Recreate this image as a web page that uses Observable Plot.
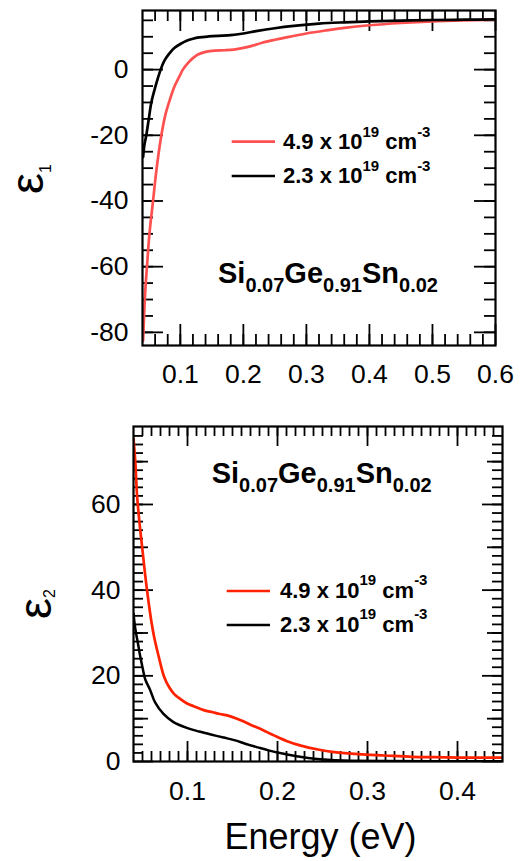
<!DOCTYPE html>
<html><head><meta charset="utf-8">
<script src="https://cdn.jsdelivr.net/npm/d3@7"></script>
<script src="https://cdn.jsdelivr.net/npm/@observablehq/plot@0.6"></script>
<style>
body{margin:0;background:#fff;}
#wrap{position:relative;width:525px;height:861px;overflow:hidden;font-family:"Liberation Sans",Arial,sans-serif;}
#wrap svg{display:block;}
</style></head><body><div id="wrap"></div>
<script>
// ---- data ----
const concentrations = ["4.9", "2.3"];           // x 10^19 cm^-3
const seriesColorsTop = ["#ff5050", "#000000"];
const seriesColorsBot = ["#ff2200", "#000000"];

// top panel: eps1
const topE49 = [0.041,0.0425,0.0445,0.0471,0.051,0.0567,0.0625,0.0699,0.076,0.082,0.091,0.1,0.104,0.112,0.12,0.128,0.14,0.155,0.17,0.185,0.2,0.215,0.23,0.25,0.27,0.3,0.33,0.36,0.4,0.45,0.5,0.55,0.6];
const topV49 = [-82.5,-75,-67,-60,-50,-40,-30,-20,-14,-10,-5,-1.5,0,2,3.5,4.6,5.4,5.8,5.9,6.1,6.6,7.3,8.2,9.1,9.9,11,11.9,12.7,13.5,14.2,14.7,15,15.2];
const topE23 = [0.041,0.043,0.046,0.05,0.054,0.06,0.0688,0.075,0.083,0.09,0.1,0.11,0.12,0.13,0.145,0.16,0.18,0.2,0.22,0.25,0.28,0.32,0.36,0.4,0.45,0.5,0.55,0.6];
const topV23 = [-26.6,-23,-20,-15,-10,-5.5,0,2.8,5,6.5,7.8,8.8,9.4,9.8,10.1,10.3,10.5,11,11.7,12.6,13.3,14,14.4,14.7,14.9,15.1,15.2,15.3];

// bottom panel: eps2
const botE49 = [0.04,0.042,0.044,0.047,0.05,0.053,0.056,0.06,0.063,0.068,0.074,0.08,0.085,0.09,0.099,0.107,0.118,0.128,0.136,0.145,0.155,0.162,0.17,0.183,0.196,0.21,0.226,0.245,0.263,0.29,0.319,0.35,0.374,0.41,0.45];
const botV49 = [75.4,70,62,55,49.3,43.5,38.4,32.5,29,24.5,19.8,17.2,15.8,14.9,13.6,12.9,12,11.5,11.1,10.7,10,9.4,8.6,7.4,6.1,4.8,3.7,2.8,2.2,1.7,1.4,1.1,1.0,0.9,0.9];
const botE23 = [0.04,0.042,0.045,0.0475,0.05,0.053,0.0587,0.064,0.0733,0.0844,0.1,0.113,0.126,0.14,0.152,0.165,0.178,0.19,0.207,0.225,0.244,0.26,0.281,0.32,0.38,0.45];
const botV23 = [34.5,31,27.5,24.5,22,19.2,16.6,13.8,11.1,9.2,7.8,7,6.3,5.6,5,4.1,3.3,2.6,1.8,1.1,0.6,0.35,0.2,0.1,0.05,0.05];

// ticks
const topXTicks = [0.1,0.2,0.3,0.4,0.5,0.6];
const topYTicks = [-80,-60,-40,-20,0];
const botXTicks = [0.1,0.2,0.3,0.4];
const botYTicks = [0,20,40,60];

const FONT = '"Liberation Sans", Arial, sans-serif';
const TICK_FS = 26.5;
const zip = (xs, ys, s) => xs.map((x, i) => ({x, y: ys[i], s}));

function tickRules({xMinor, xMajor, yMinor, yMid, yMajor, frameW, frameH, lx, ly}) {
  const st = {stroke: "#000", strokeWidth: 1.8};
  const m = [];
  const addX = (vals, len) => {
    m.push(Plot.ruleX(vals, {x: d => d, insetTop: frameH - len, ...st}));
    m.push(Plot.ruleX(vals, {x: d => d, insetBottom: frameH - len, ...st}));
  };
  const addY = (vals, len) => {
    m.push(Plot.ruleY(vals, {y: d => d, insetRight: frameW - len, ...st}));
    m.push(Plot.ruleY(vals, {y: d => d, insetLeft: frameW - len, ...st}));
  };
  addX(xMinor, lx[0]); addX(xMajor, lx[1]);
  addY(yMinor, ly[0]); if (yMid) addY(yMid, ly[1]); addY(yMajor, ly[2]);
  return m;
}

function richText(g, x, y, parts, size, weight, anchor) {
  const t = g.append("text").attr("x", x).attr("y", y)
    .attr("text-anchor", anchor || "start")
    .attr("font-family", FONT).attr("font-weight", weight).attr("font-size", size).attr("fill", "#000");
  let shift = 0;
  for (const p of parts) {
    const ts = t.append("tspan").text(p.t).attr("font-size", p.size || size);
    const target = p.dy || 0;
    if (target !== shift) { ts.attr("dy", target - shift); shift = target; }
  }
  return t;
}

const wrap = document.getElementById("wrap");

// ---------- TOP PANEL ----------
{
  const W = 525, H = 400, mL = 142, mR = 30, mT = 10, mB = 55;
  const frameW = W - mL - mR, frameH = H - mT - mB;
  const data = [...zip(topE49, topV49, 0), ...zip(topE23, topV23, 1)];
  const svg = Plot.plot({
    width: W, height: H, marginLeft: mL, marginRight: mR, marginTop: mT, marginBottom: mB,
    style: {fontFamily: FONT, fontSize: TICK_FS + "px", color: "#000", background: "transparent", overflow: "visible"},
    x: {domain: [0.04, 0.6]},
    y: {domain: [-84, 18]},
    marks: [
      ...tickRules({
        xMinor: d3.range(0.06, 0.595, 0.02), xMajor: topXTicks,
        yMinor: d3.range(-80, 16, 5), yMajor: topYTicks,
        frameW, frameH, lx: [11, 21], ly: [11, 0, 21]
      }),
      Plot.line(data.filter(d => d.s === 0), {x: "x", y: "y", stroke: seriesColorsTop[0], strokeWidth: 2.7, curve: "catmull-rom", clip: true}),
      Plot.line(data.filter(d => d.s === 1), {x: "x", y: "y", stroke: seriesColorsTop[1], strokeWidth: 2.7, curve: "catmull-rom", clip: true}),
      Plot.frame({stroke: "#000", strokeWidth: 2.2}),
      Plot.axisX({ticks: topXTicks, tickSize: 0, tickPadding: 19, tickFormat: d3.format(".1f"), label: null, fontSize: TICK_FS}),
      Plot.axisY({ticks: topYTicks, tickSize: 0, tickPadding: 14, tickFormat: d => String(d), label: null, fontSize: TICK_FS})
    ]
  });
  const g = d3.select(svg).append("g");
  // y label
  const yl = g.append("g").attr("transform", "translate(43,179) rotate(-90)");
  richText(yl, 0, 0, [{t: "ε"}, {t: "1", size: 16, dy: 8}], 47, "normal", "middle");
  // legend
  const leg = [[141.7, 149], [176, 183.3]];
  leg.forEach(([ly, by], i) => {
    g.append("line").attr("x1", 231.7).attr("x2", 275).attr("y1", ly).attr("y2", ly)
      .attr("stroke", seriesColorsTop[i]).attr("stroke-width", 2.7);
    richText(g, 283, by, [{t: concentrations[i] + " x 10"}, {t: "19", size: 15, dy: -12.5}, {t: " cm"}, {t: "-3", size: 15, dy: -12.5}], 22, "bold");
  });
  // composition
  richText(g, 218, 282.7, [{t: "Si"}, {t: "0.07", size: 20, dy: 9}, {t: "Ge"}, {t: "0.91", size: 20, dy: 9}, {t: "Sn"}, {t: "0.02", size: 20, dy: 9}], 29, "bold");
  wrap.appendChild(svg);
}

// ---------- BOTTOM PANEL ----------
{
  const W = 525, H = 461, mL = 133, mR = 23, mT = 26, mB = 100;
  const frameW = W - mL - mR, frameH = H - mT - mB;
  const data = [...zip(botE49, botV49, 0), ...zip(botE23, botV23, 1)];
  const svg = Plot.plot({
    width: W, height: H, marginLeft: mL, marginRight: mR, marginTop: mT, marginBottom: mB,
    style: {fontFamily: FONT, fontSize: TICK_FS + "px", color: "#000", background: "transparent", overflow: "visible"},
    x: {domain: [0.04, 0.45]},
    y: {domain: [0, 78.2]},
    marks: [
      ...tickRules({
        xMinor: d3.range(0.05, 0.445, 0.01), xMajor: botXTicks,
        yMinor: d3.range(2, 78, 2), yMid: [10, 30, 50, 70], yMajor: botYTicks,
        frameW, frameH, lx: [10, 20], ly: [10, 15, 20]
      }),
      Plot.line(data.filter(d => d.s === 0), {x: "x", y: "y", stroke: seriesColorsBot[0], strokeWidth: 2.7, curve: "catmull-rom", clip: true}),
      Plot.line(data.filter(d => d.s === 1), {x: "x", y: "y", stroke: seriesColorsBot[1], strokeWidth: 2.5, curve: "catmull-rom", clip: true}),
      Plot.frame({stroke: "#000", strokeWidth: 2.2}),
      Plot.axisX({ticks: botXTicks, tickSize: 0, tickPadding: 20, tickFormat: d3.format(".1f"), label: null, fontSize: TICK_FS}),
      Plot.axisY({ticks: botYTicks, tickSize: 0, tickPadding: 13, tickFormat: d => String(d), label: null, fontSize: TICK_FS}),
      Plot.text(["Energy (eV)"], {frameAnchor: "bottom", lineAnchor: "bottom", dx: 2.5, dy: 87, fontSize: 36, fill: "#000"})
    ]
  });
  const g = d3.select(svg).append("g");
  const yl = g.append("g").attr("transform", "translate(51,204) rotate(-90)");
  richText(yl, 0, 0, [{t: "ε"}, {t: "2", size: 16, dy: 4}], 47, "normal", "middle");
  const leg = [[191, 197.7], [225, 231.7]];
  leg.forEach(([ly, by], i) => {
    g.append("line").attr("x1", 226.7).attr("x2", 270).attr("y1", ly).attr("y2", ly)
      .attr("stroke", seriesColorsBot[i]).attr("stroke-width", 2.7);
    richText(g, 280, by, [{t: concentrations[i] + " x 10"}, {t: "19", size: 15, dy: -12.5}, {t: " cm"}, {t: "-3", size: 15, dy: -12.5}], 22, "bold");
  });
  richText(g, 211.7, 82.7, [{t: "Si"}, {t: "0.07", size: 20, dy: 9}, {t: "Ge"}, {t: "0.91", size: 20, dy: 9}, {t: "Sn"}, {t: "0.02", size: 20, dy: 9}], 29, "bold");
  wrap.appendChild(svg);
}
</script>
</body></html>
